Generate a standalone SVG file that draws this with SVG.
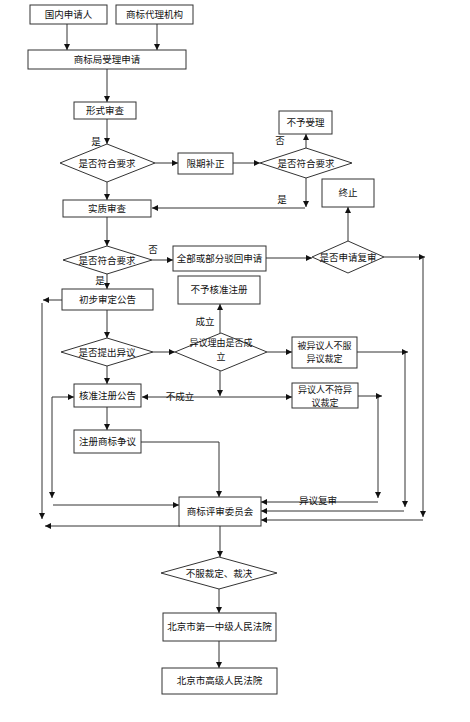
<svg xmlns="http://www.w3.org/2000/svg" width="470" height="722" viewBox="0 0 470 722">
<style>
.b{fill:#fff;stroke:#333;stroke-width:1}
.t{font-family:"Noto Sans CJK SC","Liberation Sans",sans-serif;font-size:9.5px;fill:#111;text-anchor:middle}
.m{font-size:9px}
.c path{fill:none;stroke:#333;stroke-width:1}
.c .e{marker-end:url(#a)}
.c .d{marker-end:url(#a);marker-start:url(#a)}
</style>
<defs>
<marker id="a" viewBox="0 0 10 10" refX="10" refY="5" markerWidth="7" markerHeight="6" orient="auto-start-reverse" markerUnits="userSpaceOnUse"><path d="M0,0 L10,5 L0,10 z" fill="#111"/></marker>
</defs>
<rect width="470" height="722" fill="#fff"/>
<g class="c" id="connectors">
<path class="e" d="M67,24 V50"/>
<path class="e" d="M157,24 V50"/>
<path class="e" d="M107,69 V102"/>
<path class="e" d="M107,119 V144"/>
<path class="e" d="M155,163 H178"/>
<path class="e" d="M233,163 H260"/>
<path class="e" d="M306,148 V134"/>
<path class="e" d="M306,178 V207"/>
<path class="e" d="M305,208 H152"/>
<path class="e" d="M107,182 V200"/>
<path class="e" d="M107,217 V246"/>
<path class="e" d="M152,260 H173"/>
<path class="e" d="M266,258 H312"/>
<path class="e" d="M348,241 V207"/>
<path class="e" d="M384,257 H425"/>
<path class="e" d="M423,258 V517"/>
<path class="e" d="M423,520 H261"/>
<path class="e" d="M107,273 V289"/>
<path class="e" d="M62,300 H43"/>
<path class="e" d="M42,303 V519"/>
<path class="e" d="M180,526 H45"/>
<path class="e" d="M107,310 V338"/>
<path class="e" d="M153,352 H175"/>
<path class="e" d="M220,333 V304"/>
<path class="e" d="M267,352 H292"/>
<path class="e" d="M357,352 H408"/>
<path class="e" d="M405,353 V507"/>
<path class="e" d="M404,511 H261"/>
<path class="e" d="M220,371 V396"/>
<path class="d" d="M142,397 H292"/>
<path class="e" d="M358,396 H382"/>
<path class="e" d="M378,397 V498"/>
<path class="e" d="M378,502 H261"/>
<path class="e" d="M107,366 V384"/>
<path class="e" d="M52,397 H74"/>
<path class="e" d="M52,397 V498"/>
<path class="e" d="M53,505 H179"/>
<path class="e" d="M107,407 V430"/>
<path class="e" d="M141,442 H219 V497"/>
<path class="e" d="M220,526 V557"/>
<path class="e" d="M219,589 V613"/>
<path class="e" d="M219,641 V668"/>
</g>
<g id="labels">
<text class="t" x="96" y="145">是</text>
<text class="t" x="280" y="144">否</text>
<text class="t" x="282" y="203">是</text>
<text class="t" x="153" y="253">否</text>
<text class="t" x="100" y="284">是</text>
<text class="t" x="205" y="325">成立</text>
<text class="t" x="180" y="400">不成立</text>
<text class="t" x="318" y="504">异议复审</text>
</g>
<g id="n1"><rect class="b" x="30" y="5" width="77" height="19"/><text class="t" x="68.5" y="18">国内申请人</text></g>
<g id="n2"><rect class="b" x="116" y="5" width="77" height="19"/><text class="t" x="154.5" y="18">商标代理机构</text></g>
<g id="n3"><rect class="b" x="28" y="50" width="158" height="19"/><text class="t" x="107" y="63">商标局受理申请</text></g>
<g id="n4"><rect class="b" x="74" y="102" width="62" height="17"/><text class="t" x="105" y="114">形式审查</text></g>
<g id="n5"><path class="b" d="M60,163 L107,144 L155,163 L107,182 Z"/><text class="t" x="107" y="166.5">是否符合要求</text></g>
<g id="n6"><rect class="b" x="178" y="153" width="55" height="21"/><text class="t" x="205.5" y="167">限期补正</text></g>
<g id="n7"><path class="b" d="M260,163 L306,148 L352,163 L306,178 Z"/><text class="t" x="306" y="166.5">是否符合要求</text></g>
<g id="n8"><rect class="b" x="279" y="111" width="53" height="23"/><text class="t" x="305.5" y="126">不予受理</text></g>
<g id="n9"><rect class="b" x="63" y="200" width="88" height="17"/><text class="t" x="107" y="212">实质审查</text></g>
<g id="n10"><rect class="b" x="322" y="179" width="52" height="28"/><text class="t" x="348" y="196">终止</text></g>
<g id="n11"><path class="b" d="M312,257 L348,241 L384,257 L348,273 Z"/><text class="t" x="348" y="260.5">是否申请复审</text></g>
<g id="n12"><rect class="b" x="173" y="246" width="93" height="25"/><text class="t" x="219.5" y="262">全部或部分驳回申请</text></g>
<g id="n13"><path class="b" d="M63,260 L107,246 L152,260 L107,274 Z"/><text class="t" x="107" y="263.5">是否符合要求</text></g>
<g id="n14"><rect class="b" x="62" y="289" width="91" height="21"/><text class="t" x="107.5" y="303">初步审定公告</text></g>
<g id="n15"><rect class="b" x="178" y="276" width="82" height="28"/><text class="t" x="219" y="293">不予核准注册</text></g>
<g id="n16"><path class="b" d="M175,352 L221,333 L267,352 L221,371 Z"/><text class="t m" x="221" y="346">异议理由是否成</text><text class="t m" x="221" y="359.5">立</text></g>
<g id="n17"><path class="b" d="M61,352 L107,338 L153,352 L107,366 Z"/><text class="t" x="107" y="355.5">是否提出异议</text></g>
<g id="n18"><rect class="b" x="292" y="337" width="65" height="31"/><text class="t m" x="324.5" y="348.5">被异议人不服</text><text class="t m" x="324.5" y="362">异议裁定</text></g>
<g id="n19"><rect class="b" x="292" y="383" width="66" height="25"/><text class="t m" x="325" y="393">异议人不符异</text><text class="t m" x="325" y="406.3">议裁定</text></g>
<g id="n20"><rect class="b" x="74" y="384" width="67" height="23"/><text class="t" x="107.5" y="399">核准注册公告</text></g>
<g id="n21"><rect class="b" x="74" y="430" width="67" height="23"/><text class="t" x="107.5" y="445">注册商标争议</text></g>
<g id="n22"><rect class="b" x="179" y="497" width="82" height="29"/><text class="t" x="220" y="515">商标评审委员会</text></g>
<g id="n23"><path class="b" d="M161,573 L219,557 L277,573 L219,589 Z"/><text class="t" x="219" y="576.5">不服裁定、裁决</text></g>
<g id="n24"><rect class="b" x="163" y="613" width="113" height="28"/><text class="t" x="219.5" y="630">北京市第一中级人民法院</text></g>
<g id="n25"><rect class="b" x="162" y="668" width="115" height="26"/><text class="t" x="219.5" y="684">北京市高级人民法院</text></g>
</svg>
